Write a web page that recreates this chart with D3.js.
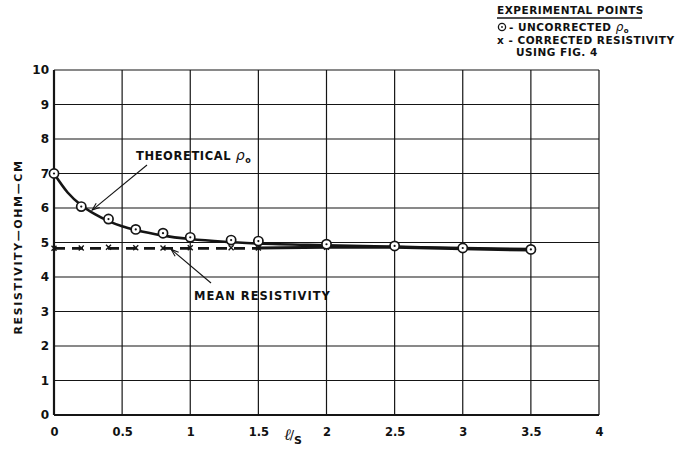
<!DOCTYPE html>
<html>
<head>
<meta charset="utf-8">
<script src="https://cdn.jsdelivr.net/npm/d3@7"></script>
<style>
  html, body { margin: 0; padding: 0; background: #fff; }
  svg { display: block; }
  text { font-family: "DejaVu Sans", "Liberation Sans", sans-serif; font-weight: bold; fill: #111; }
</style>
</head>
<body>
<svg id="chart" width="689" height="451"></svg>
<script>
// Ratio l/s, x positions of the experimental points
const pointX = [0, 0.2, 0.4, 0.6, 0.8, 1.0, 1.3, 1.5, 2.0, 2.5, 3.0, 3.5];
// Uncorrected apparent resistivity (ohm-cm)
const uncorrected = [7.0, 6.04, 5.68, 5.38, 5.27, 5.15, 5.07, 5.04, 4.95, 4.90, 4.84, 4.80];
// Resistivity corrected using Fig. 4
const corrected = [4.83, 4.84, 4.86, 4.85, 4.84, 4.85, 4.85, 4.84, 4.86, 4.86, 4.82, 4.78];
// Theoretical rho_o curve
const theoryX = [0, 0.1, 0.2, 0.3, 0.4, 0.5, 0.6, 0.8, 1.0, 1.25, 1.5, 2.0, 2.5, 3.0, 3.5];
const theoryY = [7.0, 6.45, 6.08, 5.82, 5.62, 5.47, 5.36, 5.20, 5.10, 5.02, 4.97, 4.92, 4.88, 4.84, 4.81];
// Mean resistivity
const meanResistivity = 4.83;
const meanRange = [0, 1.5];
// Axis ticks
const xTicks = [0, 0.5, 1, 1.5, 2, 2.5, 3, 3.5, 4];
const xTickLabels = ["0", "0.5", "1", "1.5", "2", "2.5", "3", "3.5", "4"];
const yTicks = [0, 1, 2, 3, 4, 5, 6, 7, 8, 9, 10];

const svg = d3.select("#chart");
const x = d3.scaleLinear().domain([0, 4]).range([54, 599]);
const y = d3.scaleLinear().domain([0, 10]).range([415, 70]);
const ink = "#151515";

// grid
const grid = svg.append("g");
grid.selectAll("line.h").data(yTicks).join("line")
  .attr("x1", x(0)).attr("x2", x(4))
  .attr("y1", d => y(d)).attr("y2", d => y(d))
  .attr("stroke", ink).attr("stroke-width", d => d === 0 ? 2.2 : 1.2);
grid.selectAll("line.v").data(xTicks).join("line")
  .attr("y1", y(0)).attr("y2", y(10))
  .attr("x1", d => x(d)).attr("x2", d => x(d))
  .attr("stroke", ink).attr("stroke-width", d => d === 0 ? 2.2 : 1.2);

// tick labels
const yAxis = d3.axisLeft(y).tickValues(yTicks).tickSize(0).tickPadding(5);
const gy = svg.append("g").attr("transform", `translate(${x(0)},0)`).call(yAxis);
gy.select(".domain").remove();
gy.selectAll("text").style("font-size", "12px").style("font-family", "DejaVu Sans, sans-serif").style("font-weight", "bold").attr("fill", ink);

const xAxis = d3.axisBottom(x).tickValues(xTicks).tickSize(0).tickPadding(13)
  .tickFormat((d, i) => xTickLabels[i]);
const gx = svg.append("g").attr("transform", `translate(0,${y(0)})`).call(xAxis);
gx.select(".domain").remove();
gx.selectAll("text").style("font-size", "11.5px").style("font-family", "DejaVu Sans, sans-serif").style("font-weight", "bold").attr("fill", ink);

// mean resistivity dashed line
svg.append("line")
  .attr("x1", x(meanRange[0])).attr("x2", x(meanRange[1]))
  .attr("y1", y(meanResistivity)).attr("y2", y(meanResistivity))
  .attr("stroke", ink).attr("stroke-width", 2.6).attr("stroke-dasharray", "11,7");

// corrected points (x marks)
svg.append("g").selectAll("path").data(pointX).join("path")
  .attr("transform", (d, i) => `translate(${x(d)},${y(corrected[i])})`)
  .attr("d", "M-2.5,-2.5L2.5,2.5M-2.5,2.5L2.5,-2.5")
  .attr("stroke", ink).attr("stroke-width", 1.4);

// corrected line across the flat part
const line = d3.line().x(d => x(d[0])).y(d => y(d[1]));
svg.append("path")
  .datum(pointX.map((d, i) => [d, corrected[i]]).filter(d => d[0] >= 1.5))
  .attr("d", line).attr("fill", "none").attr("stroke", ink).attr("stroke-width", 3);

// theoretical curve
svg.append("path")
  .datum(theoryX.map((d, i) => [d, theoryY[i]]))
  .attr("d", line.curve(d3.curveMonotoneX))
  .attr("fill", "none").attr("stroke", ink).attr("stroke-width", 2.6);

// uncorrected points (circle with centre dot)
const pts = svg.append("g").selectAll("g").data(pointX).join("g")
  .attr("transform", (d, i) => `translate(${x(d)},${y(uncorrected[i])})`);
pts.append("circle").attr("r", 4.6).attr("fill", "#fff").attr("stroke", ink).attr("stroke-width", 1.7);
pts.append("circle").attr("r", 1.1).attr("fill", ink);

// annotations
const theoLabel = svg.append("text").attr("x", 136).attr("y", 160).style("font-size", "11.5px").attr("letter-spacing", "0.6");
theoLabel.append("tspan").text("THEORETICAL ");
theoLabel.append("tspan").style("font-style", "italic").style("font-weight", "normal").style("font-size", "14px").text("ρ");
theoLabel.append("tspan").attr("dy", 3).style("font-size", "8px").text("o");

function arrow(x1, y1, x2, y2) {
  svg.append("line").attr("x1", x1).attr("y1", y1).attr("x2", x2).attr("y2", y2)
    .attr("stroke", ink).attr("stroke-width", 1.1);
  const a = Math.atan2(y2 - y1, x2 - x1);
  const L = 8, w = 0.35;
  const p1 = [x2 - L * Math.cos(a - w), y2 - L * Math.sin(a - w)];
  const p2 = [x2 - L * Math.cos(a + w), y2 - L * Math.sin(a + w)];
  svg.append("path").attr("d", `M${p1}L${x2},${y2}L${p2}`).attr("fill", "none")
    .attr("stroke", ink).attr("stroke-width", 1.1);
}
arrow(147, 165, x(0.28), y(5.94));
arrow(211, 283, x(0.86), y(4.80));

svg.append("text").attr("x", 194).attr("y", 300).style("font-size", "11.5px").attr("letter-spacing", "1").text("MEAN RESISTIVITY");

// axis titles
svg.append("text").attr("transform", "translate(22,247) rotate(-90)").attr("text-anchor", "middle")
  .style("font-size", "11px").attr("letter-spacing", "1.6").text("RESISTIVITY—OHM—CM");

const xl = svg.append("text").attr("x", 284).attr("y", 440);
xl.append("tspan").style("font-family", "DejaVu Serif, serif").style("font-style", "italic").style("font-weight", "normal").style("font-size", "16px").text("ℓ");
xl.append("tspan").attr("dx", -1).attr("dy", -1).style("font-weight", "normal").style("font-size", "13px").text("/");
xl.append("tspan").attr("dy", 5).style("font-size", "11px").text("S");

// legend
const lg = svg.append("g").style("font-size", "10.5px").attr("letter-spacing", "0.5");
lg.append("text").attr("x", 497).attr("y", 14).text("EXPERIMENTAL POINTS");
lg.append("line").attr("x1", 497).attr("x2", 642).attr("y1", 18).attr("y2", 18).attr("stroke", ink).attr("stroke-width", 1.3);
lg.append("circle").attr("cx", 502).attr("cy", 27).attr("r", 3.6).attr("fill", "none").attr("stroke", ink).attr("stroke-width", 1.3);
lg.append("circle").attr("cx", 502).attr("cy", 27).attr("r", 0.9).attr("fill", ink);
const l1 = lg.append("text").attr("x", 509).attr("y", 31);
l1.append("tspan").text("- UNCORRECTED ");
l1.append("tspan").style("font-style", "italic").style("font-weight", "normal").style("font-size", "12px").text("ρ");
l1.append("tspan").attr("dy", 2).style("font-size", "7px").text("o");
lg.append("text").attr("x", 497).attr("y", 44).text("x - CORRECTED RESISTIVITY");
lg.append("text").attr("x", 516).attr("y", 56).text("USING FIG. 4");
</script>
</body>
</html>
